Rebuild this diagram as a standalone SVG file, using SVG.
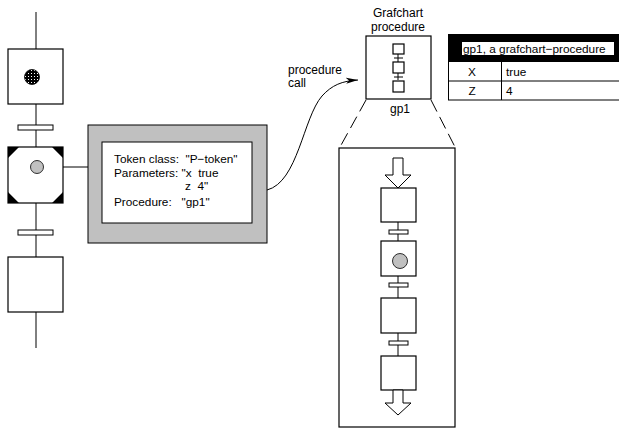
<svg xmlns="http://www.w3.org/2000/svg" width="619" height="429" viewBox="0 0 619 429">
<style>
text{font-family:"Liberation Sans",Arial,sans-serif;fill:#000}
.ln{stroke:#000;stroke-width:1;fill:none}
.box{fill:#fff;stroke:#000;stroke-width:1.2}
.tr{fill:#fff;stroke:#000;stroke-width:1}
.t11{font-size:11.8px}
.t12{font-size:12px}
</style>
<defs>
<pattern id="dots" width="3" height="3" patternUnits="userSpaceOnUse">
<rect width="3" height="3" fill="#000"/>
<rect x="1" y="1" width="1" height="1" fill="#fff"/>
</pattern>
<marker id="arr" viewBox="0 0 12 8" refX="12" refY="4" markerWidth="12" markerHeight="8" orient="auto" markerUnits="userSpaceOnUse">
<path d="M0,1 L12,4 L0,7 L3,4 Z" fill="#000"/>
</marker>
</defs>

<g id="connectors">
<line class="ln" x1="36" y1="12" x2="36" y2="49"/>
<line class="ln" x1="36" y1="104" x2="36" y2="147"/>
<line class="ln" x1="36" y1="203" x2="36" y2="257"/>
<line class="ln" x1="36" y1="312" x2="36" y2="348"/>
<line class="ln" x1="40" y1="167" x2="88" y2="167"/>
<path class="ln" d="M267,190 C298,182 303,118 322,96 C332,85 342,81 358,80" marker-end="url(#arr)"/>
<line class="ln" x1="366" y1="100" x2="340" y2="147" stroke-dasharray="13,6"/>
<line class="ln" x1="431" y1="100" x2="455" y2="147" stroke-dasharray="13,6"/>
</g>

<g id="step1">
<rect class="box" x="8" y="49" width="55" height="55"/>
<circle cx="32" cy="77" r="7.5" fill="url(#dots)" stroke="#000" stroke-width="0.8"/>
</g>
<g id="trans1"><rect class="tr" x="18" y="125" width="35" height="5"/></g>
<g id="step2">
<rect class="box" x="8" y="147" width="55" height="56"/>
<path d="M8,147 L19,147 L8,158 Z M63,147 L52,147 L63,158 Z M8,203 L19,203 L8,192 Z M63,203 L52,203 L63,192 Z" fill="#000"/>
<circle cx="37" cy="167" r="6.5" fill="#c0c0c0" stroke="#000" stroke-width="0.8"/>
</g>
<g id="trans2"><rect class="tr" x="18" y="230" width="35" height="5"/></g>
<g id="step3"><rect class="box" x="8" y="257" width="55" height="55"/></g>

<g id="token-info">
<rect x="88" y="125" width="179" height="118" fill="#c0c0c0" stroke="#000" stroke-width="1"/>
<rect x="102" y="142" width="150" height="81" fill="#fff" stroke="#000" stroke-width="1"/>
<text class="t11" x="114" y="163" xml:space="preserve">Token class:  "P−token"</text>
<text class="t11" x="114" y="177" xml:space="preserve">Parameters: "x  true</text>
<text class="t11" x="185" y="190" xml:space="preserve">z  4"</text>
<text class="t11" x="114" y="206" xml:space="preserve">Procedure:   "gp1"</text>
</g>

<g id="call-label">
<text class="t12" x="288" y="74">procedure</text>
<text class="t12" x="288" y="87">call</text>
</g>

<g id="gp1">
<text class="t12" x="398" y="17" text-anchor="middle">Grafchart</text>
<text class="t12" x="398" y="31" text-anchor="middle">procedure</text>
<rect class="box" x="366" y="36" width="65" height="63"/>
<line class="ln" x1="398" y1="54" x2="398" y2="80"/>
<rect class="box" x="393" y="44" width="11" height="10" stroke-width="0.8"/>
<rect class="box" x="393" y="62" width="11" height="11" stroke-width="0.8"/>
<rect class="box" x="393" y="81" width="11" height="11" stroke-width="0.8"/>
<line class="ln" x1="394" y1="58" x2="403" y2="58"/>
<line class="ln" x1="394" y1="77" x2="403" y2="77"/>
<text class="t12" x="400" y="113" text-anchor="middle">gp1</text>
</g>

<g id="table">
<rect x="448" y="34" width="171" height="28" fill="#000"/>
<rect x="462" y="42" width="152" height="13" fill="#fff"/>
<text class="t11" x="463" y="52.5">gp1, a grafchart−procedure</text>
<line class="ln" x1="448.5" y1="62" x2="448.5" y2="100"/>
<line class="ln" x1="501.5" y1="62" x2="501.5" y2="100"/>
<line class="ln" x1="448" y1="81" x2="619" y2="81" stroke="#555"/>
<line class="ln" x1="448" y1="100" x2="619" y2="100"/>
<text class="t11" x="472" y="76" text-anchor="middle">X</text>
<text class="t11" x="506" y="76">true</text>
<text class="t11" x="472" y="95" text-anchor="middle">Z</text>
<text class="t11" x="506" y="95">4</text>
</g>

<g id="expanded">
<rect class="box" x="339" y="148" width="116" height="279"/>
<line class="ln" x1="398" y1="222" x2="398" y2="241"/>
<line class="ln" x1="398" y1="276" x2="398" y2="298"/>
<line class="ln" x1="398" y1="333" x2="398" y2="356"/>
<path d="M393,158 L403,158 L403,175 L411,175 L398,188 L385,175 L393,175 Z" fill="#fff" stroke="#000" stroke-width="1"/>
<rect class="box" x="381" y="188" width="35" height="34"/>
<rect class="tr" x="389" y="230" width="19" height="4"/>
<rect class="box" x="381" y="241" width="35" height="35"/>
<circle cx="400" cy="261" r="7.5" fill="#c0c0c0" stroke="#000" stroke-width="0.8"/>
<rect class="tr" x="389" y="283" width="19" height="4"/>
<rect class="box" x="381" y="298" width="35" height="35"/>
<rect class="tr" x="389" y="341" width="19" height="4"/>
<rect class="box" x="381" y="356" width="35" height="34"/>
<path d="M393,390 L403,390 L403,403 L411,403 L398,415 L385,403 L393,403 Z" fill="#fff" stroke="#000" stroke-width="1"/>
</g>
</svg>
